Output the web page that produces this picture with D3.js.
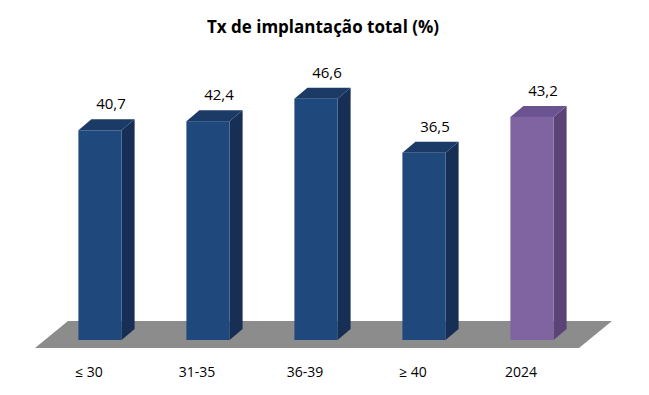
<!DOCTYPE html>
<html>
<head>
<meta charset="utf-8">
<script src="https://cdn.jsdelivr.net/npm/d3@7"></script>
<style>
  body { margin: 0; background: #fff; }
  text { font-family: "Open Sans", "Noto Sans", sans-serif; fill: #000; }
</style>
</head>
<body>
<div id="chart"></div>
<script>
// data
var categories = ["≤ 30", "31-35", "36-39", "≥ 40", "2024"];
var values = [40.7, 42.4, 46.6, 36.5, 43.2];
var labels = ["40,7", "42,4", "46,6", "36,5", "43,2"];
var title = "Tx de implantação total (%)";

var svgWidth = 649;
var svgHeight = 395;

// 3d depth offset
var dx = 13, dy = -11;

var svg = d3.select("#chart")
    .append("svg")
    .attr("width", svgWidth)
    .attr("height", svgHeight);

var x = d3.scaleBand()
    .domain(categories)
    .range([46, 586])
    .paddingInner(0.6)
    .paddingOuter(0.3);

// axis floor sits a bit above zero
var y = d3.scaleLinear()
    .domain([1.5, 50])
    .range([340, 80.5]);

// colours per bar: front, side, top
function colours(i) {
    if (i === categories.length - 1) return ["#8064a2", "#5a4476", "#6b5290"];
    return ["#1f497d", "#172f55", "#1b3a66"];
}

// floor
var floorTop = 321, floorBottom = 348;
svg.append("polygon")
    .attr("points", [[68, floorTop], [612, floorTop], [579, floorBottom], [35, floorBottom]].join(" "))
    .attr("fill", "#8c8c8c");

var bars = svg.selectAll("g.bar")
    .data(values)
    .enter()
    .append("g")
    .attr("class", "bar");

bars.each(function (d, i) {
    var g = d3.select(this);
    var x0 = x(categories[i]);
    var w = x.bandwidth();
    var yt = y(d);
    var yb = y(y.domain()[0]);
    var c = colours(i);

    // side
    g.append("polygon")
        .attr("points", [[x0 + w, yt], [x0 + w + dx, yt + dy], [x0 + w + dx, yb + dy], [x0 + w, yb]].join(" "))
        .attr("fill", c[1]);
    // top
    g.append("polygon")
        .attr("points", [[x0, yt], [x0 + dx, yt + dy], [x0 + w + dx, yt + dy], [x0 + w, yt]].join(" "))
        .attr("fill", c[2]);
    // front
    g.append("rect")
        .attr("x", x0)
        .attr("y", yt)
        .attr("width", w)
        .attr("height", yb - yt)
        .attr("fill", c[0]);

    // value label
    g.append("text")
        .attr("x", x0 + w / 2 + 11)
        .attr("y", yt + dy - 10)
        .attr("text-anchor", "middle")
        .style("font-size", "15px")
        .text(labels[i]);
});

// category labels
svg.selectAll("text.cat")
    .data(categories)
    .enter()
    .append("text")
    .attr("class", "cat")
    .attr("x", d => x(d) + x.bandwidth() / 2 - 11)
    .attr("y", 377)
    .attr("text-anchor", "middle")
    .style("font-size", "14px")
    .text(d => d);

// title
svg.append("text")
    .attr("x", 323)
    .attr("y", 33)
    .attr("text-anchor", "middle")
    .style("font-size", "17px")
    .style("font-weight", "bold")
    .text(title);
</script>
</body>
</html>
